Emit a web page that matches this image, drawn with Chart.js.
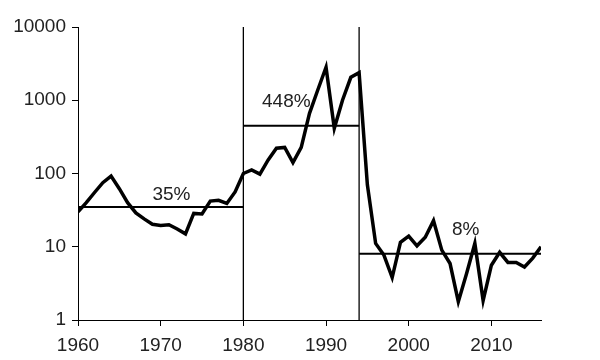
<!DOCTYPE html>
<html lang="en">
  <head>
    <meta charset="UTF-8" />
    <title>Log chart</title>
    <script src="https://cdn.jsdelivr.net/npm/chart.js@4"></script>
    <style>
      body { margin: 0; background: #fff; }
    </style>
  </head>
  <body>
    <canvas id="myChart" width="600" height="360"></canvas>
    <script>
      // yearly values (log scale)
      const years = [
        1960, 1961, 1962, 1963, 1964, 1965, 1966, 1967, 1968, 1969,
        1970, 1971, 1972, 1973, 1974, 1975, 1976, 1977, 1978, 1979,
        1980, 1981, 1982, 1983, 1984, 1985, 1986, 1987, 1988, 1989,
        1990, 1991, 1992, 1993, 1994, 1995, 1996, 1997, 1998, 1999,
        2000, 2001, 2002, 2003, 2004, 2005, 2006, 2007, 2008, 2009,
        2010, 2011, 2012, 2013, 2014, 2015, 2016
      ];
      const values = [
        30, 40, 55, 75, 92, 62, 40, 29, 24, 20.3,
        19.5, 20, 17.5, 15, 28.5, 28, 42, 43, 39, 56,
        100, 112, 98, 153, 221, 227, 141, 227, 663, 1380,
        2820, 414, 1008, 2057, 2378, 70, 11.1, 7.7, 3.8, 11.5,
        14, 10.3, 13.5, 22.7, 9, 5.9, 1.78, 4.3, 11.1, 1.84,
        5.6, 8.4, 6.1, 6.1, 5.3, 7, 10
      ];

      // period averages
      const segStart = [1960, 1980, 1994];
      const segEnd = [1980, 1994, 2016];
      const segValue = [35, 448, 8];
      const segLabel = ["35%", "448%", "8%"];
      const labelX = [1971.3, 1985.2, 2006.9];
      const labelY = [51, 940, 17];

      const dividers = [1980, 1994];

      const xTicks = [1960, 1970, 1980, 1990, 2000, 2010];
      const yTicks = [1, 10, 100, 1000, 10000];

      const FONT = { family: "'Liberation Sans', Arial, sans-serif", size: 19 };

      const datasets = [];
      datasets.push({
        data: years.map((y, i) => ({ x: y, y: values[i] })),
        borderColor: "#000",
        borderWidth: 3.5,
        pointRadius: 0,
        tension: 0,
      });
      for (let i = 0; i < segValue.length; i++) {
        datasets.push({
          data: [
            { x: segStart[i], y: segValue[i] },
            { x: segEnd[i], y: segValue[i] },
          ],
          borderColor: "#000",
          borderWidth: 2,
          pointRadius: 0,
        });
      }
      for (const d of dividers) {
        datasets.push({
          data: [
            { x: d, y: 1 },
            { x: d, y: 10000 },
          ],
          borderColor: "#000",
          borderWidth: 1.3,
          pointRadius: 0,
        });
      }

      const segText = {
        id: "segText",
        afterDatasetsDraw(chart) {
          const ctx = chart.ctx;
          const xs = chart.scales.x;
          const ys = chart.scales.y;
          ctx.save();
          ctx.font = FONT.size + "px " + FONT.family;
          ctx.fillStyle = "#222";
          ctx.textAlign = "center";
          ctx.textBaseline = "middle";
          for (let i = 0; i < segLabel.length; i++) {
            ctx.fillText(segLabel[i], xs.getPixelForValue(labelX[i]), ys.getPixelForValue(labelY[i]));
          }
          ctx.restore();
        },
      };

      new Chart(document.getElementById("myChart"), {
        type: "line",
        data: { datasets: datasets },
        options: {
          responsive: false,
          animation: false,
          layout: { padding: { top: 27, right: 59, left: 0, bottom: 0 } },
          plugins: {
            legend: { display: false },
            tooltip: { enabled: false },
          },
          scales: {
            x: {
              type: "linear",
              min: 1960,
              max: 2016,
              afterBuildTicks: (s) => { s.ticks = xTicks.map((v) => ({ value: v })); },
              afterFit: (s) => { s.height = 40; },
              grid: { drawOnChartArea: false, color: "#000", tickLength: 6 },
              border: { color: "#000", width: 1 },
              ticks: { color: "#222", font: FONT, padding: 8, maxRotation: 0, callback: (v) => String(v) },
            },
            y: {
              type: "logarithmic",
              min: 1,
              max: 10000,
              afterBuildTicks: (s) => { s.ticks = yTicks.map((v) => ({ value: v })); },
              afterFit: (s) => { s.width = 78; },
              grid: { drawOnChartArea: false, color: "#000", tickLength: 6 },
              border: { color: "#000", width: 1 },
              ticks: { color: "#222", font: FONT, padding: 6, callback: (v) => String(v) },
            },
          },
        },
        plugins: [segText],
      });
    </script>
  </body>
</html>
